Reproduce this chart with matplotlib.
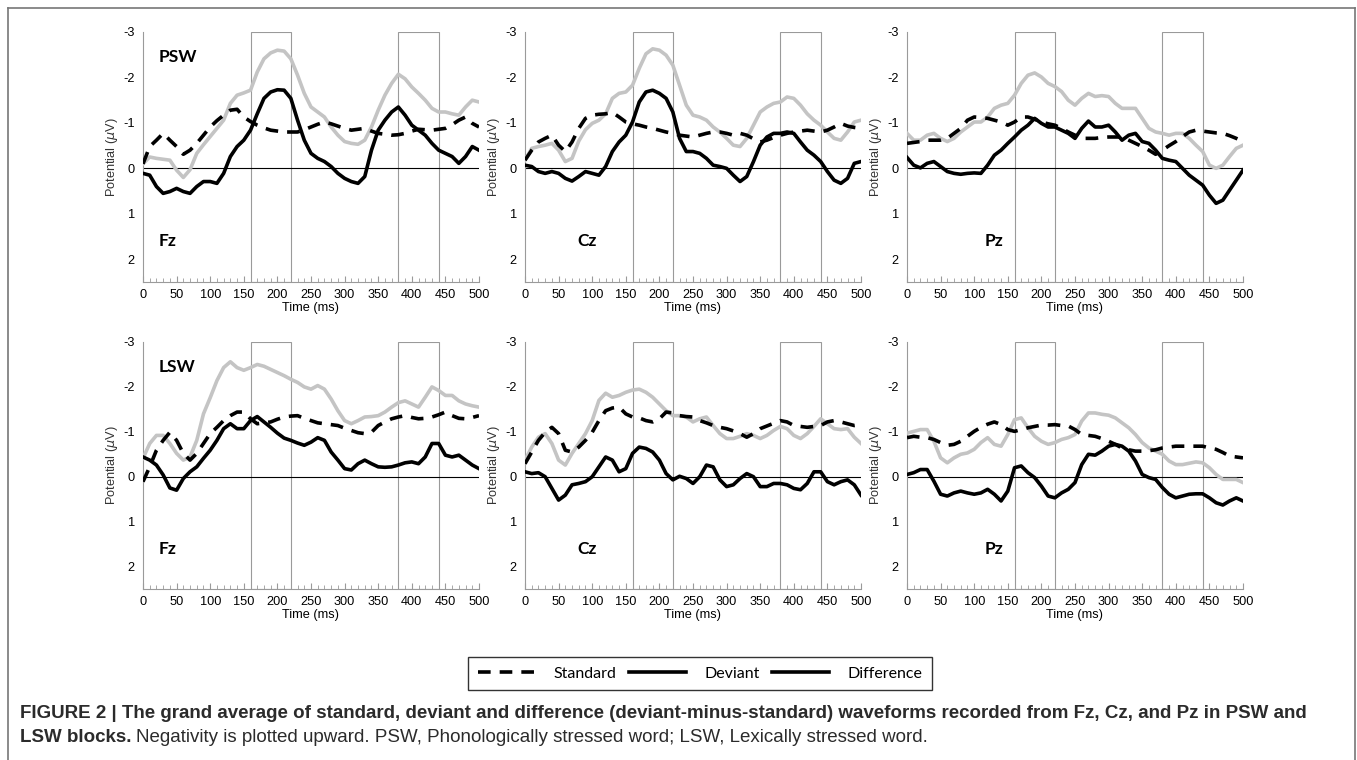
import numpy as np
import matplotlib
matplotlib.use('Agg')
from matplotlib import pyplot as plt
from matplotlib.lines import Line2D
from matplotlib.patches import Rectangle

# Define data (potential in microvolts, sampled every 10 ms from 0 to 500 ms).
time_ms = np.arange(0, 501, 10)

psw_fz_std = [-0.10, -0.48, -0.62, -0.77, -0.62, -0.48, -0.31, -0.40, -0.55, -0.73,
              -0.91, -1.05, -1.17, -1.28, -1.30, -1.13, -1.03, -0.95, -0.89, -0.84,
              -0.82, -0.80, -0.80, -0.80, -0.85, -0.91, -0.97, -1.02, -0.98, -0.93,
              -0.88, -0.84, -0.86, -0.88, -0.82, -0.77, -0.75, -0.73, -0.74, -0.77,
              -0.82, -0.86, -0.85, -0.84, -0.86, -0.88, -0.96, -1.06, -1.13, -0.99, -0.91]
psw_fz_dev = [-0.10, -0.25, -0.22, -0.20, -0.18, 0.04, 0.20, 0.03, -0.33, -0.52,
              -0.70, -0.88, -1.06, -1.43, -1.61, -1.66, -1.72, -2.12, -2.41, -2.54,
              -2.60, -2.58, -2.41, -2.05, -1.65, -1.35, -1.24, -1.13, -0.91, -0.73,
              -0.59, -0.55, -0.53, -0.62, -0.91, -1.28, -1.61, -1.87, -2.07, -1.97,
              -1.79, -1.65, -1.50, -1.32, -1.24, -1.24, -1.20, -1.17, -1.35, -1.50, -1.46]
psw_fz_diff = [0.11, 0.15, 0.40, 0.55, 0.51, 0.44, 0.51, 0.55, 0.40, 0.29,
               0.29, 0.33, 0.11, -0.26, -0.48, -0.62, -0.84, -1.20, -1.54, -1.68,
               -1.73, -1.72, -1.54, -1.06, -0.62, -0.33, -0.22, -0.15, -0.04, 0.11,
               0.22, 0.29, 0.33, 0.18, -0.40, -0.84, -1.06, -1.24, -1.35, -1.17,
               -0.95, -0.84, -0.73, -0.55, -0.40, -0.33, -0.26, -0.11, -0.26, -0.48, -0.40]

psw_cz_std = [-0.18, -0.40, -0.58, -0.66, -0.73, -0.51, -0.37, -0.58, -0.88, -1.10,
              -1.17, -1.19, -1.20, -1.23, -1.13, -1.02, -0.98, -0.95, -0.91, -0.88,
              -0.84, -0.80, -0.77, -0.73, -0.71, -0.69, -0.73, -0.77, -0.80, -0.80,
              -0.77, -0.73, -0.77, -0.73, -0.65, -0.58, -0.62, -0.68, -0.73, -0.77,
              -0.80, -0.82, -0.84, -0.82, -0.80, -0.84, -0.91, -0.99, -0.93, -0.90, -0.88]
psw_cz_dev = [-0.18, -0.44, -0.48, -0.51, -0.55, -0.40, -0.15, -0.22, -0.60, -0.85,
              -0.99, -1.06, -1.20, -1.54, -1.65, -1.68, -1.83, -2.20, -2.52, -2.63,
              -2.60, -2.49, -2.27, -1.83, -1.39, -1.17, -1.13, -1.06, -0.91, -0.80,
              -0.66, -0.51, -0.48, -0.66, -0.95, -1.24, -1.35, -1.43, -1.46, -1.57,
              -1.54, -1.39, -1.20, -1.06, -0.95, -0.80, -0.66, -0.62, -0.80, -1.02, -1.06]
psw_cz_diff = [-0.07, -0.04, 0.07, 0.11, 0.07, 0.11, 0.22, 0.28, 0.18, 0.07,
               0.11, 0.15, -0.04, -0.37, -0.58, -0.73, -1.02, -1.46, -1.68, -1.72,
               -1.65, -1.54, -1.24, -0.66, -0.37, -0.37, -0.33, -0.22, -0.07, -0.04,
               0.00, 0.15, 0.29, 0.18, -0.15, -0.51, -0.69, -0.77, -0.77, -0.80,
               -0.77, -0.58, -0.40, -0.29, -0.15, 0.07, 0.26, 0.33, 0.22, -0.11, -0.15]

psw_pz_std = [-0.55, -0.57, -0.59, -0.62, -0.62, -0.62, -0.66, -0.77, -0.88, -1.06,
              -1.13, -1.12, -1.10, -1.06, -1.02, -0.95, -1.02, -1.13, -1.13, -1.08,
              -1.02, -0.98, -0.95, -0.88, -0.80, -0.73, -0.66, -0.66, -0.66, -0.68,
              -0.69, -0.69, -0.69, -0.62, -0.55, -0.48, -0.40, -0.31, -0.40, -0.50,
              -0.59, -0.70, -0.80, -0.84, -0.82, -0.80, -0.78, -0.77, -0.72, -0.66, -0.59]
psw_pz_dev = [-0.77, -0.62, -0.62, -0.73, -0.77, -0.66, -0.59, -0.66, -0.80, -0.91,
              -1.02, -1.02, -1.13, -1.32, -1.39, -1.43, -1.61, -1.87, -2.05, -2.10,
              -2.01, -1.87, -1.80, -1.69, -1.50, -1.39, -1.54, -1.65, -1.58, -1.60,
              -1.58, -1.43, -1.32, -1.32, -1.32, -1.10, -0.88, -0.80, -0.77, -0.73,
              -0.77, -0.77, -0.66, -0.51, -0.37, -0.07, 0.00, -0.07, -0.26, -0.44, -0.51]
psw_pz_diff = [-0.24, -0.07, -0.01, -0.11, -0.15, -0.04, 0.07, 0.11, 0.13, 0.11,
               0.10, 0.11, -0.07, -0.29, -0.40, -0.55, -0.69, -0.84, -0.95, -1.10,
               -0.99, -0.91, -0.91, -0.84, -0.77, -0.66, -0.88, -1.04, -0.91, -0.91,
               -0.95, -0.80, -0.62, -0.73, -0.77, -0.59, -0.55, -0.40, -0.22, -0.18,
               -0.15, 0.00, 0.15, 0.26, 0.37, 0.59, 0.77, 0.70, 0.48, 0.26, 0.04]

lsw_fz_std = [0.11, -0.22, -0.59, -0.81, -0.99, -0.81, -0.52, -0.37, -0.52, -0.74,
              -0.96, -1.10, -1.25, -1.36, -1.44, -1.44, -1.29, -1.18, -1.20, -1.22,
              -1.28, -1.33, -1.35, -1.36, -1.30, -1.25, -1.20, -1.18, -1.16, -1.14,
              -1.08, -1.03, -0.98, -0.96, -0.99, -1.14, -1.22, -1.29, -1.33, -1.36,
              -1.32, -1.29, -1.30, -1.33, -1.38, -1.44, -1.36, -1.30, -1.29, -1.32, -1.36]
lsw_fz_dev = [-0.41, -0.74, -0.92, -0.92, -0.74, -0.52, -0.37, -0.44, -0.81, -1.40,
              -1.76, -2.14, -2.43, -2.56, -2.43, -2.37, -2.43, -2.50, -2.46, -2.39,
              -2.32, -2.25, -2.17, -2.10, -2.00, -1.95, -2.03, -1.95, -1.73, -1.47,
              -1.25, -1.18, -1.25, -1.33, -1.34, -1.36, -1.44, -1.55, -1.65, -1.69,
              -1.62, -1.55, -1.77, -2.00, -1.92, -1.81, -1.81, -1.69, -1.62, -1.58, -1.55]
lsw_fz_diff = [-0.44, -0.37, -0.26, -0.04, 0.25, 0.30, 0.04, -0.11, -0.22, -0.41,
               -0.59, -0.81, -1.07, -1.18, -1.07, -1.07, -1.25, -1.34, -1.22, -1.10,
               -0.97, -0.86, -0.81, -0.75, -0.70, -0.77, -0.87, -0.81, -0.55, -0.37,
               -0.18, -0.15, -0.29, -0.37, -0.29, -0.22, -0.21, -0.22, -0.26, -0.31,
               -0.33, -0.29, -0.44, -0.74, -0.74, -0.48, -0.44, -0.48, -0.37, -0.26, -0.18]

lsw_cz_std = [-0.29, -0.55, -0.81, -0.99, -1.10, -0.96, -0.59, -0.55, -0.66, -0.81,
              -0.99, -1.25, -1.47, -1.53, -1.55, -1.40, -1.33, -1.31, -1.25, -1.22,
              -1.29, -1.44, -1.42, -1.36, -1.34, -1.33, -1.25, -1.20, -1.14, -1.10,
              -1.07, -1.02, -0.96, -0.88, -0.96, -1.07, -1.13, -1.19, -1.25, -1.22,
              -1.14, -1.12, -1.10, -1.12, -1.14, -1.22, -1.25, -1.22, -1.18, -1.14, -1.16]
lsw_cz_dev = [-0.37, -0.66, -0.88, -0.96, -0.74, -0.37, -0.26, -0.52, -0.74, -0.96,
              -1.25, -1.70, -1.86, -1.77, -1.81, -1.88, -1.93, -1.95, -1.88, -1.77,
              -1.62, -1.47, -1.36, -1.36, -1.33, -1.22, -1.29, -1.33, -1.14, -0.96,
              -0.85, -0.85, -0.90, -0.96, -0.92, -0.85, -0.92, -1.03, -1.12, -1.07,
              -0.92, -0.85, -0.96, -1.12, -1.29, -1.18, -1.07, -1.05, -1.07, -0.88, -0.74]
lsw_cz_diff = [-0.11, -0.07, -0.09, 0.00, 0.26, 0.52, 0.41, 0.18, 0.15, 0.11,
               0.00, -0.22, -0.44, -0.37, -0.11, -0.18, -0.52, -0.66, -0.63, -0.55,
               -0.37, -0.07, 0.07, -0.01, 0.04, 0.15, 0.00, -0.26, -0.22, 0.07,
               0.22, 0.18, 0.04, -0.07, 0.00, 0.22, 0.22, 0.15, 0.15, 0.18,
               0.26, 0.29, 0.15, -0.11, -0.11, 0.11, 0.18, 0.11, 0.07, 0.18, 0.41]

lsw_pz_std = [-0.87, -0.90, -0.88, -0.87, -0.83, -0.76, -0.70, -0.72, -0.79, -0.90,
              -1.01, -1.10, -1.17, -1.22, -1.16, -1.05, -1.01, -1.05, -1.09, -1.12,
              -1.15, -1.15, -1.16, -1.14, -1.13, -1.05, -0.94, -0.92, -0.90, -0.85,
              -0.79, -0.72, -0.64, -0.60, -0.57, -0.57, -0.58, -0.60, -0.64, -0.66,
              -0.68, -0.68, -0.68, -0.68, -0.68, -0.64, -0.61, -0.54, -0.46, -0.44, -0.42]
lsw_pz_dev = [-0.97, -1.01, -1.05, -1.05, -0.79, -0.42, -0.31, -0.42, -0.50, -0.53,
              -0.61, -0.76, -0.87, -0.72, -0.68, -0.94, -1.27, -1.31, -1.09, -0.90,
              -0.79, -0.72, -0.76, -0.83, -0.87, -0.94, -1.24, -1.42, -1.42, -1.39,
              -1.37, -1.31, -1.20, -1.09, -0.94, -0.76, -0.64, -0.57, -0.50, -0.35,
              -0.27, -0.27, -0.30, -0.33, -0.31, -0.20, -0.05, 0.06, 0.06, 0.06, 0.13]
lsw_pz_diff = [-0.05, -0.09, -0.16, -0.16, 0.10, 0.39, 0.43, 0.36, 0.32, 0.36,
               0.39, 0.36, 0.28, 0.39, 0.54, 0.32, -0.20, -0.24, -0.09, 0.02,
               0.21, 0.43, 0.47, 0.36, 0.28, 0.13, -0.27, -0.50, -0.48, -0.57,
               -0.68, -0.72, -0.68, -0.57, -0.35, -0.05, 0.02, 0.06, 0.24, 0.39,
               0.47, 0.43, 0.39, 0.38, 0.38, 0.47, 0.58, 0.63, 0.54, 0.47, 0.54]

panels = [
    ('Fz', 'PSW', psw_fz_std, psw_fz_dev, psw_fz_diff),
    ('Cz', None, psw_cz_std, psw_cz_dev, psw_cz_diff),
    ('Pz', None, psw_pz_std, psw_pz_dev, psw_pz_diff),
    ('Fz', 'LSW', lsw_fz_std, lsw_fz_dev, lsw_fz_diff),
    ('Cz', None, lsw_cz_std, lsw_cz_dev, lsw_cz_diff),
    ('Pz', None, lsw_pz_std, lsw_pz_dev, lsw_pz_diff),
]
site_label_x = {'Fz': 23, 'Cz': 78, 'Pz': 116}
windows = [(160, 220), (380, 440)]
legend_labels = ['Standard', 'Deviant', 'Difference']

plt.rcParams['font.family'] = ['Liberation Sans', 'DejaVu Sans']
plt.rcParams['axes.unicode_minus'] = False
fig = plt.figure(figsize=(13.57, 7.6), dpi=100)

W, H = 1357.0, 760.0
lefts = [143, 525, 907]
width = 336
rows = [(32, 282), (342, 589)]

dash = (0, (3.5, 2.5))
for i, (site, block, std, dev, diff) in enumerate(panels):
    top, bottom = rows[i // 3]
    ax = fig.add_axes([lefts[i % 3] / W, 1 - bottom / H, width / W, (bottom - top) / H])

    # Analysis windows and baseline.
    for start, end in windows:
        ax.add_patch(Rectangle((start, -3), end - start, 5.5, fill=False,
                               edgecolor='#9a9a9a', linewidth=0.8, zorder=1))
    ax.axhline(0, color='black', linewidth=0.8, zorder=2)

    # Waveforms.
    ax.plot(time_ms, dev, color='#c4c4c4', linewidth=2.6, zorder=3,
            solid_joinstyle='round')
    ax.plot(time_ms, std, color='black', linewidth=2.6, linestyle=dash, zorder=4)
    ax.plot(time_ms, diff, color='black', linewidth=2.6, zorder=5,
            solid_joinstyle='round')

    ax.set_xlim(0, 500)
    ax.set_ylim(2.5, -3)
    ax.set_xticks(range(0, 501, 50))
    ax.set_xticks(range(0, 501, 10), minor=True)
    ax.set_yticks([-3, -2, -1, 0, 1, 2])
    ax.tick_params(axis='x', which='both', direction='in', color='#9a9a9a',
                   labelsize=9.2, pad=5)
    ax.tick_params(axis='x', which='major', length=4)
    ax.tick_params(axis='x', which='minor', length=3)
    ax.tick_params(axis='y', length=0, labelsize=9.2, pad=6)
    for side in ['top', 'right']:
        ax.spines[side].set_visible(False)
    for side in ['left', 'bottom']:
        ax.spines[side].set_color('#9a9a9a')
        ax.spines[side].set_linewidth(0.8)
    ax.set_xlabel('Time (ms)', fontsize=9.2, labelpad=1)
    ax.set_ylabel(r'Potential ($\mu$V)', fontsize=9.2, labelpad=2, color='#333333')

    ax.text(site_label_x[site], 1.6, site, fontsize=12.5, fontweight='bold',
            family='Lato', va='center')
    if block:
        ax.text(23, -2.45, block, fontsize=12.5, fontweight='bold',
                family='Lato', va='center')

# Legend.
handles = [Line2D([], [], color='black', linewidth=2.6, linestyle=dash),
           Line2D([], [], color='black', linewidth=2.6),
           Line2D([], [], color='black', linewidth=2.6)]
leg = fig.legend(handles, legend_labels, loc='center', bbox_to_anchor=(0.516, 0.1138),
                 ncol=3, frameon=True, fancybox=False, edgecolor='black',
                 prop={'family': 'Lato', 'size': 11.5}, handlelength=3.6,
                 handletextpad=1.15, columnspacing=0.75, borderpad=0.6)
leg.get_frame().set_linewidth(1.0)

# Caption.
cap_color = '#2b2b2b'
cap_size = 13.5
fig.text(20 / W, 1 - 713 / H, 'FIGURE 2 | The grand average of standard, deviant and difference '
         '(deviant-minus-standard) waveforms recorded from Fz, Cz, and Pz in PSW and',
         fontsize=cap_size, fontweight='bold', color=cap_color, va='center')
bold_part = fig.text(20 / W, 1 - 738 / H, 'LSW blocks.', fontsize=cap_size, fontweight='bold',
                     color=cap_color, va='center')
renderer = fig.canvas.get_renderer()
bb = bold_part.get_window_extent(renderer=renderer)
fig.text((bb.x1 + 4) / W, 1 - 738 / H, 'Negativity is plotted upward. PSW, Phonologically '
         'stressed word; LSW, Lexically stressed word.', fontsize=cap_size, color=cap_color,
         va='center')

# Frame around the figure.
frame_color = '#777777'
fig.add_artist(Line2D([8 / W, 1355 / W], [1 - 8 / H, 1 - 8 / H], color=frame_color, linewidth=1.2))
fig.add_artist(Line2D([8 / W, 8 / W], [0, 1 - 8 / H], color=frame_color, linewidth=1.2))
fig.add_artist(Line2D([1355 / W, 1355 / W], [0, 1 - 8 / H], color=frame_color, linewidth=1.2))

fig.savefig('out.png', dpi=100)
